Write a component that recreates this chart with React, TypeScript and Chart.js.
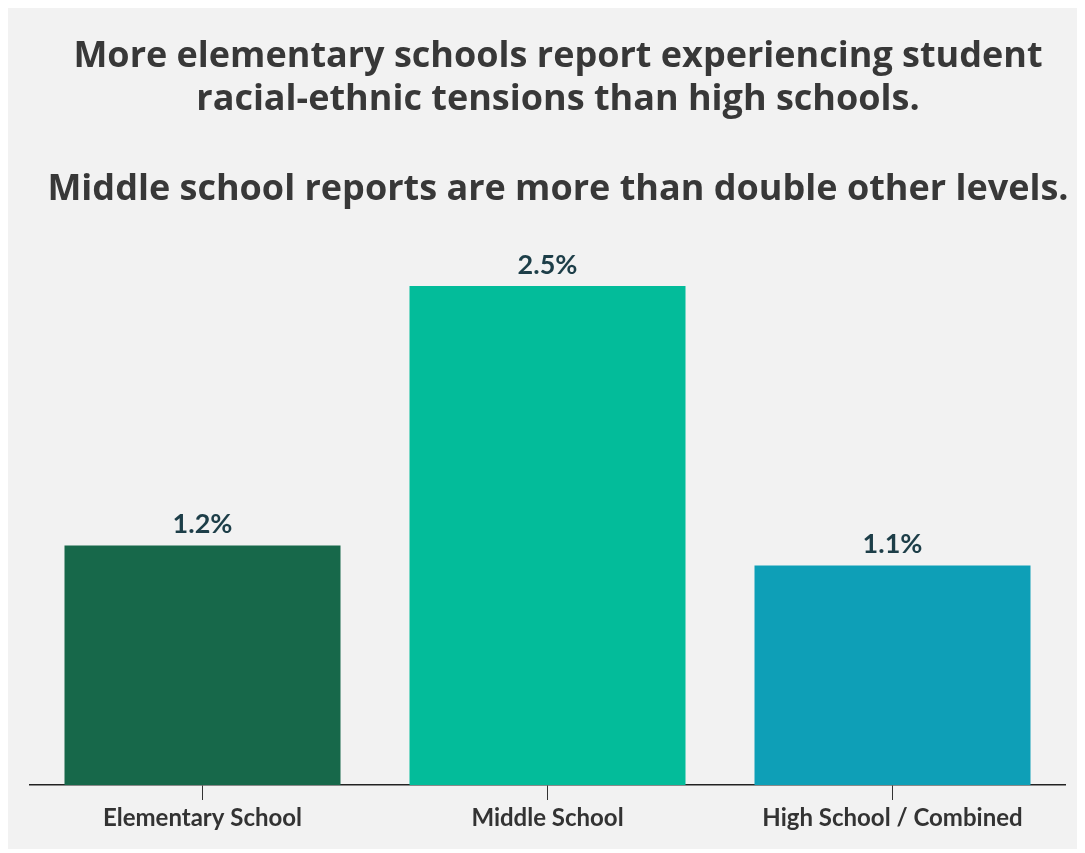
import React, { useEffect, useRef } from "react";
import { Chart, registerables } from "chart.js";

Chart.register(...registerables);

const categories = ["Elementary School", "Middle School", "High School / Combined"];
const values = [1.2, 2.5, 1.1];
const valueLabels = ["1.2%", "2.5%", "1.1%"];
const barColors = ["#17684a", "#03bc9a", "#0e9fb7"];
const titleLines = [
  "More elementary schools report experiencing student",
  "racial-ethnic tensions than high schools.",
  "Middle school reports are more than double other levels.",
];

const overlayPlugin = {
  id: "overlay",
  afterDatasetsDraw(chart: any) {
    const ctx = chart.ctx;
    ctx.save();
    // title
    ctx.fillStyle = "#383838";
    ctx.font = '700 36px "Open Sans"';
    ctx.textAlign = "center";
    ctx.textBaseline = "middle";
    const ys = [49, 92, 182];
    titleLines.forEach((t, i) => ctx.fillText(t, 550, ys[i]));
    // value labels
    const meta = chart.getDatasetMeta(0);
    ctx.fillStyle = "#1d3e48";
    ctx.font = '700 27px Lato';
    ctx.textBaseline = "alphabetic";
    meta.data.forEach((bar: any, i: number) => {
      ctx.fillText(valueLabels[i], bar.x, bar.y - 12);
    });
    ctx.restore();
  },
};

export default function App() {
  const ref = useRef<HTMLCanvasElement>(null);
  useEffect(() => {
    document.body.style.background = "#ffffff";
    const chart = new Chart(ref.current!, {
      type: "bar",
      data: {
        labels: categories,
        datasets: [
          {
            data: values,
            backgroundColor: barColors,
            barPercentage: 0.8,
            categoryPercentage: 1,
          },
        ],
      },
      options: {
        animation: false,
        responsive: false,
        maintainAspectRatio: false,
        layout: { padding: { left: 22, right: 20, top: 278, bottom: 0 } },
        plugins: {
          legend: { display: false },
          title: { display: false },
          tooltip: { enabled: false },
        },
        scales: {
          y: { display: false, min: 0, max: 2.5 },
          x: {
            afterFit(scale: any) {
              scale.height = 64;
            },
            grid: {
              offset: false,
              drawOnChartArea: false,
              drawTicks: true,
              tickLength: 15,
              color: "#333333",
            },
            border: { display: true, color: "#222222", width: 1.5 },
            ticks: {
              color: "#333333",
              padding: 4,
              font: { family: "Lato", weight: "bold", size: 24 },
            },
          },
        },
      },
      plugins: [overlayPlugin],
    });
    return () => chart.destroy();
  }, []);
  return (
    <div style={{ width: 1077, height: 841, background: "#f2f2f2" }}>
      <canvas ref={ref} width={1077} height={841} style={{ display: "block" }} />
    </div>
  );
}
